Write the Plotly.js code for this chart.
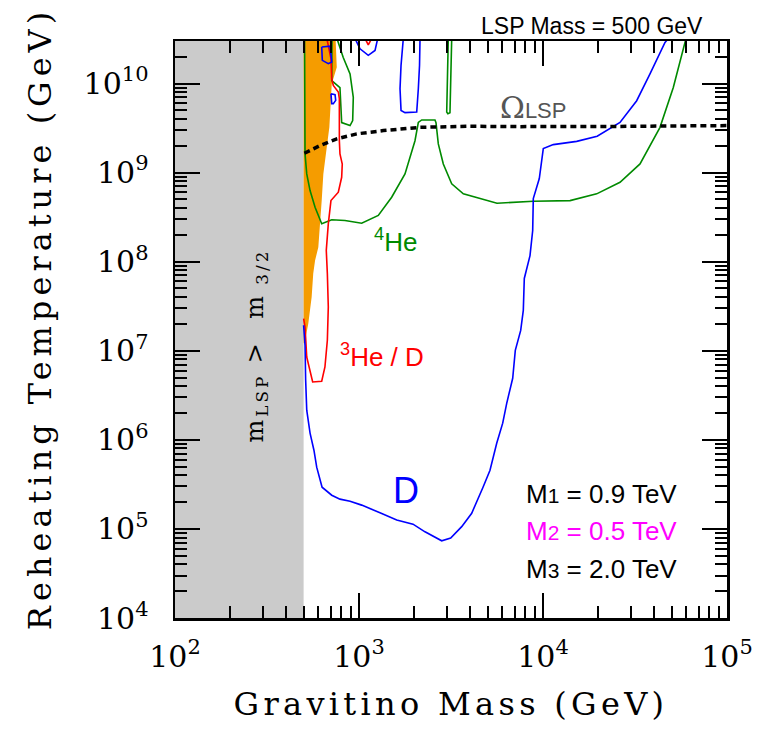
<!DOCTYPE html>
<html><head><meta charset="utf-8">
<script src="https://cdn.plot.ly/plotly-3.0.1.min.js"></script>
<style>
body{margin:0;background:#fff}
#chart{width:760px;height:729px}
.xtitle{letter-spacing:4.3px}
.ytitle{letter-spacing:5px}
.annotation[data-index="8"] text{letter-spacing:3px}
</style></head><body><div id="chart"></div>
<script>
// ---- data (GeV) ----
const excludedX = [100, 500, 500, 100, 100];
const excludedT = [1e4, 1e4, 3e10, 3e10, 1e4];

const bbnAllowedX = [500, 500, 747, 757, 711, 690, 668, 640, 627, 614, 601, 577, 564, 553, 530, 509, 500];
const bbnAllowedT = [1.21e7, 3e10, 3e10, 1.52e10, 9.87e9, 3.22e9, 1.92e9, 9.67e8, 4.85e8, 2.68e8, 1.45e8, 1.03e8, 7.37e7, 4.00e7, 2.01e7, 1.31e7, 1.21e7];

const dX = [500,509,513,520,542,569,589,630,711,788,894,1034,1300,1603,1966,2284,2815,3150,3615,4098,4721,5152,5603,6039,6350,6844,7071,7565,7815,7914,8499,8790,8857,9547,10038,11376,15245,19700,26210,32300,38150,46030,48000];
const dT = [1.93e7,1.15e7,4.66e6,2.15e6,1.19e6,7.65e5,4.93e5,2.94e5,2.39e5,2.16e5,2.05e5,1.85e5,1.52e5,1.26e5,1.13e5,9.28e4,7.36e4,7.89e4,1.06e5,1.50e5,2.94e5,4.56e5,9.16e5,1.54e6,2.57e6,4.91e6,1.01e7,1.69e7,2.84e7,6.48e7,1.17e8,2.24e8,5.11e8,8.56e8,1.86e9,2.06e9,2.24e9,2.56e9,3.66e9,6.41e9,1.28e10,2.89e10,3.2e10];

const dQuadX = [627,696,711,681,632,627];
const dQuadT = [2.57e10,2.63e10,1.74e10,1.67e10,1.82e10,2.57e10];
const dSmallX = [704,741,747,725,711,704];
const dSmallT = [7.69e9,7.49e9,6.47e9,5.94e9,5.94e9,7.69e9];
const dVeeX = [951,1013,1123,1222,1264];
const dVeeT = [3.2e10,2.45e10,2.07e10,2.35e10,3.2e10];
const dLoopX = [1741,1692,1671,1692,1778,2059,2101,2133,2146];
const dLoopT = [3.2e10,1.60e10,8.74e9,4.99e9,4.71e9,4.79e9,8.74e9,1.60e10,3.2e10];

const he4X = [506,506,509,520,542,577,627,711,839,1034,1273,1505,1778,2015,2101,2192,2588,2621,2698,2872,3190,3690,5623,8857,14026,19577,26210,33670,43240,51070,57870,59870];
const he4T = [3.2e10,6.41e9,1.62e9,9.67e8,6.28e8,4.08e8,2.66e8,2.95e8,2.90e8,2.70e8,3.30e8,5.29e8,9.67e8,2.28e9,3.66e9,3.90e9,3.90e9,3.64e9,2.10e9,1.25e9,7.47e8,5.77e8,4.53e8,4.77e8,4.85e8,5.77e8,7.79e8,1.25e9,3.22e9,9.04e9,2.54e10,3.2e10];
const he4InnerX = [713,711,788,795,805,894,924,931,894,821,759];
const he4InnerT = [3.2e10,1.08e10,8.97e9,5.64e9,3.64e9,3.37e9,3.83e9,6.99e9,1.28e10,1.96e10,3.2e10];
const he4SpikeX = [3057,2997,3040,3122,3190];
const he4SpikeT = [3.2e10,4.79e9,4.58e9,4.71e9,3.2e10];

const he3X = [500,509,520,542,560,627,653,673,681,673,664,681,704,772,805,811,788,782,782,772,725,711,704,681,668];
const he3T = [2.29e7,1.84e7,8.50e6,6.03e6,4.46e6,4.54e6,6.57e6,1.31e7,3.09e7,7.37e7,1.34e8,2.66e8,4.85e8,6.02e8,8.86e8,1.25e9,1.62e9,2.28e9,6.75e9,8.03e9,9.52e9,1.13e10,1.90e10,2.67e10,3.2e10];
const he3VeeX = [1078,1123,1172];
const he3VeeT = [3.2e10,2.72e10,3.2e10];

const omegaX = [505,614,757,972,1356,2146,4012,7499,26210,100000];
const omegaT = [1.65e9,2.01e9,2.39e9,2.72e9,2.96e9,3.22e9,3.31e9,3.28e9,3.30e9,3.37e9];

const xTickVals = [1e2, 1e3, 1e4, 1e5];
const xTickText = ['10<sup>2</sup>','10<sup>3</sup>','10<sup>4</sup>','10<sup>5</sup>'];
const yTickVals = [1e4,1e5,1e6,1e7,1e8,1e9,1e10];
const yTickText = ['10<sup>4</sup>','10<sup>5</sup>','10<sup>6</sup>','10<sup>7</sup>','10<sup>8</sup>','10<sup>9</sup>','10<sup>10</sup>'];

// minor tick positions
const xMinor = [], yMinor = [];
for (let d = 2; d < 5; d++) for (let m = 2; m <= 9; m++) xMinor.push(m * Math.pow(10, d));
for (let d = 4; d <= 10; d++) for (let m = 2; m <= 9; m++) { const v = m * Math.pow(10, d); if (v <= 3e10) yMinor.push(v); }

const BLUE = '#0000ff', GREEN = '#008a00', RED = '#ff0000';
const lw = 1.6;
function line(x, y, color, extra) {
  return Object.assign({x, y, type: 'scatter', mode: 'lines', line: {color, width: lw}, hoverinfo: 'skip'}, extra || {});
}

const traces = [
  {x: excludedX, y: excludedT, type: 'scatter', mode: 'lines', fill: 'toself', fillcolor: '#cbcbcb', line: {width: 0, color: '#cbcbcb'}, hoverinfo: 'skip'},
  {x: bbnAllowedX, y: bbnAllowedT, type: 'scatter', mode: 'lines', fill: 'toself', fillcolor: '#f59c00', line: {width: 0, color: '#f59c00'}, hoverinfo: 'skip'},
  line(he4X, he4T, GREEN), line(he4InnerX, he4InnerT, GREEN), line(he4SpikeX, he4SpikeT, GREEN),
  line(he3X, he3T, RED), line(he3VeeX, he3VeeT, RED),
  line(dX, dT, BLUE), line(dQuadX, dQuadT, BLUE), line(dSmallX, dSmallT, BLUE), line(dVeeX, dVeeT, BLUE), line(dLoopX, dLoopT, BLUE),
  {x: omegaX, y: omegaT, type: 'scatter', mode: 'lines', line: {color: '#000', width: 3.5, dash: '6px,4px'}, hoverinfo: 'skip'}
];

const tickFont = {family: 'DejaVu Serif', size: 30, color: '#000'};
const axisCommon = {
  type: 'log', ticks: 'inside', ticklen: 25, tickwidth: 2, tickcolor: '#000',
  showline: true, linewidth: 2.5, linecolor: '#000', mirror: 'ticks',
  showgrid: false, zeroline: false, tickfont: tickFont, tickmode: 'array'
};

const sans = 'Liberation Sans, Arial, sans-serif';
const layout = {
  width: 760, height: 729,
  margin: {l: 175, r: 33, t: 41, b: 111},
  paper_bgcolor: '#fff', plot_bgcolor: '#fff', showlegend: false,
  xaxis: Object.assign({}, axisCommon, {
    range: [2, 5], tickvals: xTickVals, ticktext: xTickText, ticklabelstandoff: 10,
    minor: {tickmode: 'array', tickvals: xMinor, ticks: 'inside', ticklen: 12, tickwidth: 2, tickcolor: '#000', showgrid: false},
    title: {text: 'Gravitino Mass (GeV)', font: {family: 'DejaVu Serif', size: 32, color: '#000'}, standoff: 20}
  }),
  yaxis: Object.assign({}, axisCommon, {
    range: [4, Math.log10(3e10)], tickvals: yTickVals, ticktext: yTickText, ticklabelstandoff: 18,
    minor: {tickmode: 'array', tickvals: yMinor, ticks: 'inside', ticklen: 12, tickwidth: 2, tickcolor: '#000', showgrid: false},
    title: {text: 'Reheating Temperature (GeV)', font: {family: 'DejaVu Serif', size: 32, color: '#000'}, standoff: 23}
  }),
  annotations: [
    {xref: 'paper', yref: 'paper', x: 0.96, y: 1.026, xanchor: 'right', yanchor: 'middle', showarrow: false,
     text: 'LSP Mass = 500 GeV', font: {family: sans, size: 23, color: '#000'}},
    {xref: 'paper', yref: 'paper', x: 0.5846, y: 0.8856, xanchor: 'left', yanchor: 'middle', showarrow: false,
     text: 'Ω<span style="font-family:Liberation Sans;font-size:22px">LSP</span>', font: {family: 'DejaVu Serif', size: 30, color: '#555'}},
    {xref: 'paper', yref: 'paper', x: 0.3563, y: 0.6534, xanchor: 'left', yanchor: 'middle', showarrow: false,
     text: '<sup>4</sup>He', font: {family: sans, size: 26, color: GREEN}},
    {xref: 'paper', yref: 'paper', x: 0.2958, y: 0.4541, xanchor: 'left', yanchor: 'middle', showarrow: false,
     text: '<sup>3</sup>He / D', font: {family: sans, size: 26, color: RED}},
    {xref: 'paper', yref: 'paper', x: 0.4185, y: 0.2218, xanchor: 'center', yanchor: 'middle', showarrow: false,
     text: 'D', font: {family: sans, size: 36, color: BLUE}},
    {xref: 'paper', yref: 'paper', x: 0.6328, y: 0.2149, xanchor: 'left', yanchor: 'middle', showarrow: false,
     text: 'M<span style="font-size:21px">1</span> = 0.9 TeV', font: {family: sans, size: 26, color: '#000'}},
    {xref: 'paper', yref: 'paper', x: 0.6328, y: 0.1508, xanchor: 'left', yanchor: 'middle', showarrow: false,
     text: 'M<span style="font-size:21px">2</span> = 0.5 TeV', font: {family: sans, size: 26, color: '#ff00ff'}},
    {xref: 'paper', yref: 'paper', x: 0.6328, y: 0.0849, xanchor: 'left', yanchor: 'middle', showarrow: false,
     text: 'M<span style="font-size:21px">3</span> = 2.0 TeV', font: {family: sans, size: 26, color: '#000'}},
    {xref: 'paper', yref: 'paper', x: 0.1467, y: 0.4731, xanchor: 'center', yanchor: 'middle', showarrow: false, textangle: -90,
     text: 'm<sub>LSP</sub> &gt;  m<sub> 3/2</sub>', font: {family: 'DejaVu Serif', size: 24, color: '#000'}}
  ]
};

Plotly.newPlot('chart', traces, layout, {staticPlot: true}).then(function () {
  // nudge the y-axis title up a little (text direction is upward after the -90° rotation)
  const t = document.querySelector('.ytitle');
  if (t) t.setAttribute('x', (parseFloat(t.getAttribute('x')) + 11).toString());
});
</script></body></html>
